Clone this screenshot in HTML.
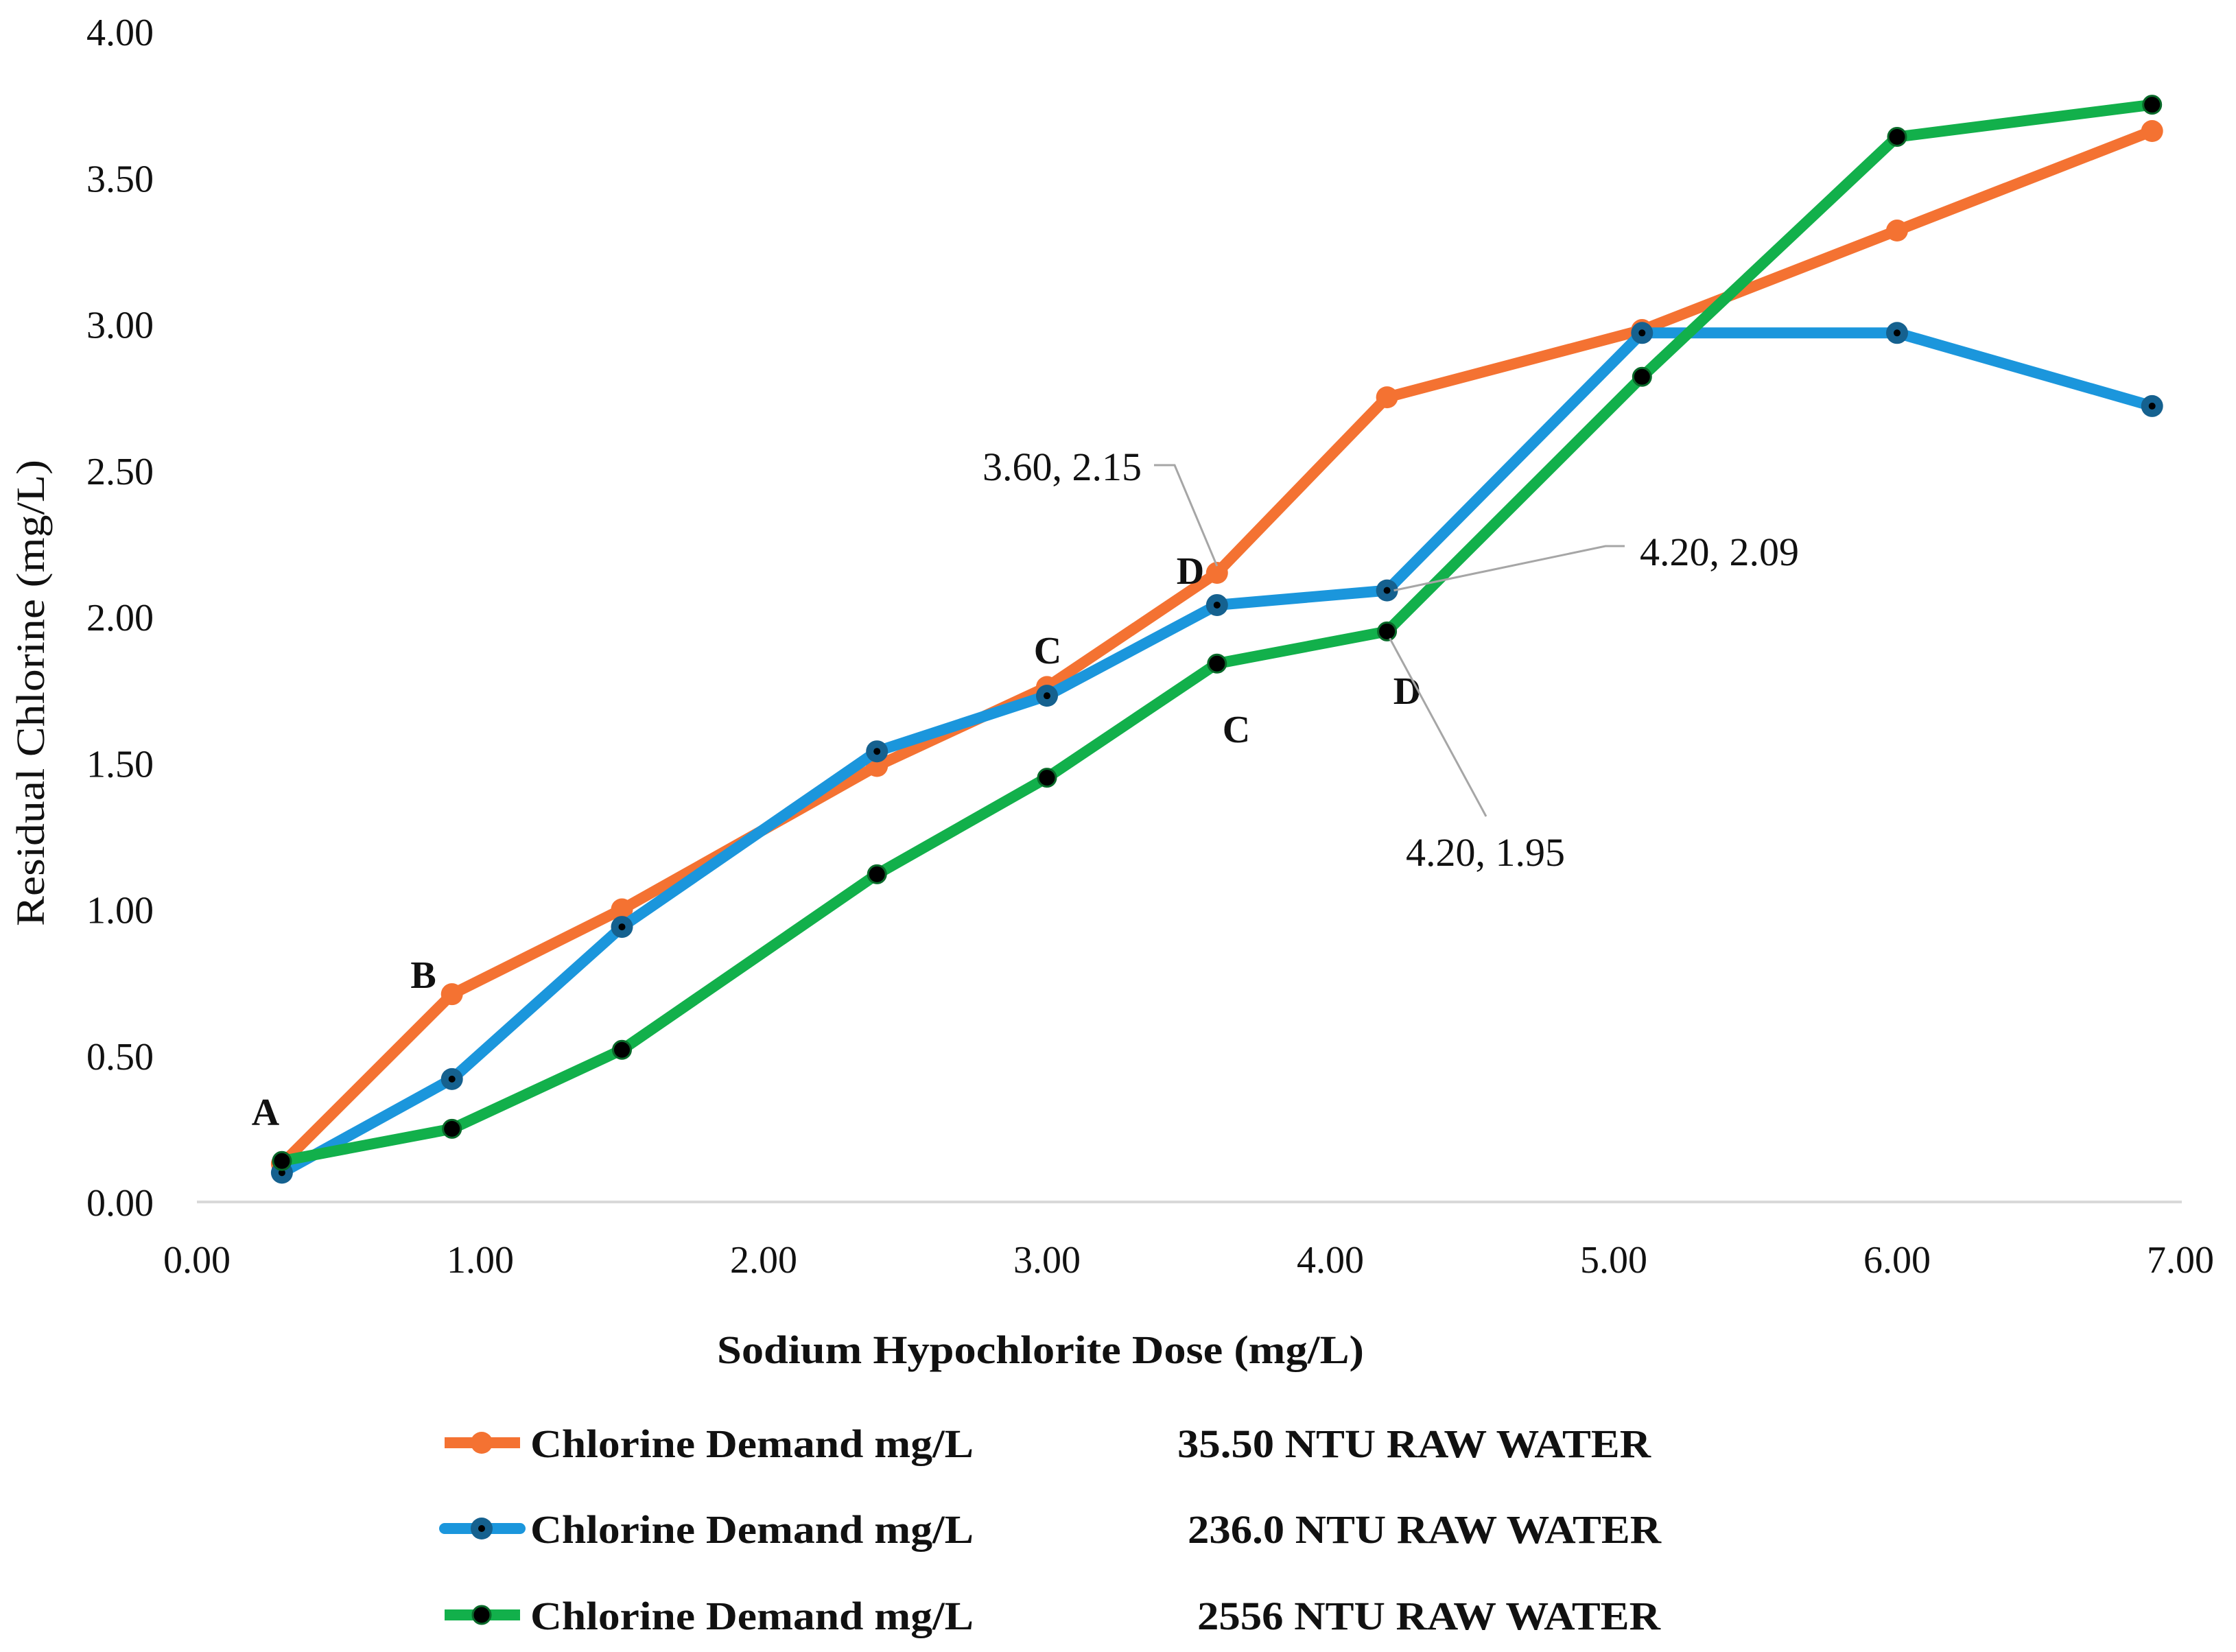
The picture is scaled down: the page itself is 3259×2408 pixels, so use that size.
<!DOCTYPE html>
<html><head><meta charset="utf-8"><style>
html,body{margin:0;padding:0;background:#fff}
svg{display:block}
text{font-family:"Liberation Serif",serif;fill:#111}
</style></head><body>
<svg id="chart" width="3259" height="2408" viewBox="0 0 3259 2408" xmlns="http://www.w3.org/2000/svg">
<g id="grid"></g>
<g id="series"></g>
<g id="annot"></g>
<text x="0" y="0" transform="translate(64,1010) rotate(-90)" text-anchor="middle" font-size="58" textLength="680" lengthAdjust="spacingAndGlyphs">Residual Chlorine (mg/L)</text>
<text x="1045" y="1987" font-size="58" font-weight="bold" textLength="943" lengthAdjust="spacingAndGlyphs">Sodium Hypochlorite Dose (mg/L)</text>
<g id="legend"></g>
</svg>
<script>
const xValues = [0.3, 0.9, 1.5, 2.4, 3.0, 3.6, 4.2, 5.1, 6.0, 6.9];
const orangeValues = [0.13, 0.71, 1.00, 1.49, 1.76, 2.15, 2.75, 2.98, 3.32, 3.66];
const blueValues = [0.10, 0.42, 0.94, 1.54, 1.73, 2.04, 2.09, 2.97, 2.97, 2.72];
const greenValues = [0.14, 0.25, 0.52, 1.12, 1.45, 1.84, 1.95, 2.82, 3.64, 3.75];
const yTicks = [0, 0.5, 1, 1.5, 2, 2.5, 3, 3.5, 4];
const xTicks = [0, 1, 2, 3, 4, 5, 6, 7];
const legendNames = ["35.50 NTU RAW WATER", "236.0 NTU RAW WATER", "2556 NTU RAW WATER"];

const NS = "http://www.w3.org/2000/svg";
const X = v => 287 + v * 413;
const Y = v => 1752 - v * 426.5;
function mk(tag, attrs, parent, txt) {
  const e = document.createElementNS(NS, tag);
  for (const k in attrs) e.setAttribute(k, attrs[k]);
  if (txt !== undefined) e.textContent = txt;
  parent.appendChild(e);
  return e;
}
const grid = document.getElementById('grid');
const axis = mk('line', {x1: 287, x2: 3180, y1: Y(0), y2: Y(0), stroke: '#d9d9d9', 'stroke-width': 4}, grid);


yTicks.forEach(t => {
  const e = mk('text', {x: 224, y: Y(t) + 20, 'text-anchor': 'end', 'font-size': 56}, grid, t.toFixed(2));
  
  
});
xTicks.forEach(t => {
  const e = mk('text', {x: X(t), y: 1855, 'text-anchor': 'middle', 'font-size': 56}, grid, t.toFixed(2));
  
  
});

const series = [
  {vals: orangeValues, color: '#F47232', mfill: '#F47232', dot: null, name: 'orange-series'},
  {vals: blueValues, color: '#1B96DC', mfill: '#15618F', dot: '#000', name: 'blue-series'},
  {vals: greenValues, color: '#12B04B', mfill: '#000', dot: null, mstroke: '#0a6a2a', name: 'green-series'}
];
const sg = document.getElementById('series');
series.forEach(s => {
  const g = mk('g', {}, sg);
  
  
  const pts = s.vals.map((v, i) => X(xValues[i]) + ',' + Y(v)).join(' ');
  const pl = mk('polyline', {points: pts, fill: 'none', stroke: s.color, 'stroke-width': 16, 'stroke-linejoin': 'round'}, g);
  
  
  s.vals.forEach((v, i) => {
    const c = mk('circle', {cx: X(xValues[i]), cy: Y(v), r: 16, fill: s.mfill}, g);
    if (s.mstroke) { c.setAttribute('stroke', s.mstroke); c.setAttribute('stroke-width', 3); c.setAttribute('r', 13); }
    
    
    if (s.dot) {
      const d = mk('circle', {cx: X(xValues[i]), cy: Y(v), r: 5, fill: s.dot}, g);
      
      
    }
  });
});

const an = document.getElementById('annot');
[['A', 387, 1640], ['B', 617, 1440], ['C', 1527, 967], ['D', 1735, 851], ['C', 1802, 1082], ['D', 2051, 1026]].forEach(a => {
  const e = mk('text', {x: a[1], y: a[2], 'text-anchor': 'middle', 'font-size': 56, 'font-weight': 'bold'}, an, a[0]);
  
  
});
function leader(pts) {
  const e = mk('polyline', {points: pts, fill: 'none', stroke: '#a6a6a6', 'stroke-width': 3}, an);
  
  
}
leader(`1682,678 1712,678 ${X(3.6)},${Y(2.15) - 10}`);
leader(`2368,796 2340,796 ${X(4.2) + 10},${Y(2.09)}`);
leader(`2166,1190 ${X(4.2) + 4},${Y(1.95) + 10}`);
[['3.60, 2.15', 1664, 700, 'end'], ['4.20, 2.09', 2390, 824, 'start'], ['4.20, 1.95', 2165, 1262, 'middle']].forEach(a => {
  const e = mk('text', {x: a[1], y: a[2], 'text-anchor': a[3], 'font-size': 58}, an, a[0]);
  
  
});

const lg = document.getElementById('legend');
const rowsY = [2103, 2228, 2354];
const rightX = [1716, 1731, 1745];
const rightLen = [690, 690, 675];
series.forEach((s, i) => {
  const y = rowsY[i];
  const g = mk('g', {}, lg);
  
  
  mk('line', {x1: 648, x2: 758, y1: y, y2: y, stroke: s.color, 'stroke-width': 16, 'stroke-linecap': i === 1 ? 'round' : 'butt'}, g);
  const c = mk('circle', {cx: 702, cy: y, r: 16, fill: s.mfill}, g);
  if (s.mstroke) { c.setAttribute('stroke', s.mstroke); c.setAttribute('stroke-width', 3); c.setAttribute('r', 13); }
  if (s.dot) mk('circle', {cx: 702, cy: y, r: 5, fill: s.dot}, g);
  mk('text', {x: 773, y: y + 21, 'font-size': 58, 'font-weight': 'bold', textLength: 646, lengthAdjust: 'spacingAndGlyphs'}, g, 'Chlorine Demand mg/L');
  mk('text', {x: rightX[i], y: y + 21, 'font-size': 58, 'font-weight': 'bold', textLength: rightLen[i], lengthAdjust: 'spacingAndGlyphs'}, g, legendNames[i]);
});
</script>
</body></html>
